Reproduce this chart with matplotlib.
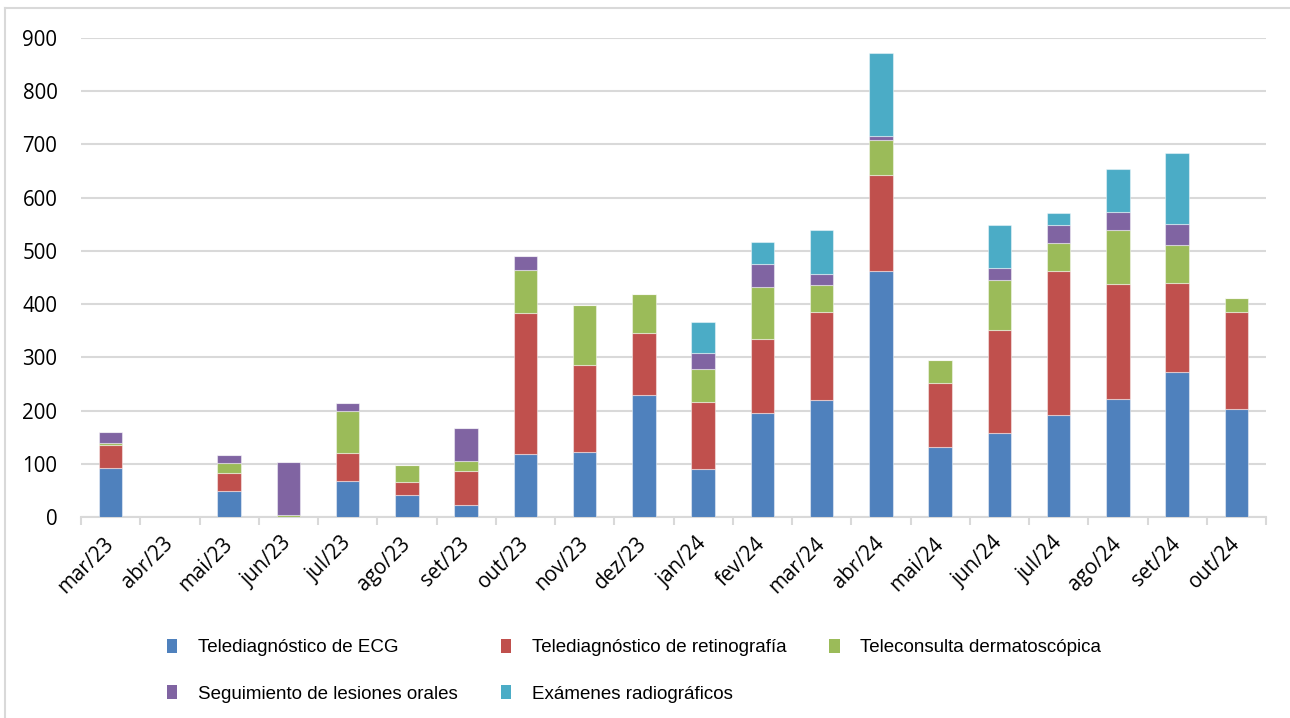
import matplotlib
matplotlib.use("Agg")
import matplotlib.pyplot as plt
import numpy as np
from matplotlib.lines import Line2D
from matplotlib.patches import Patch

months = ["mar/23", "abr/23", "mai/23", "jun/23", "jul/23", "ago/23", "set/23",
          "out/23", "nov/23", "dez/23", "jan/24", "fev/24", "mar/24", "abr/24",
          "mai/24", "jun/24", "jul/24", "ago/24", "set/24", "out/24"]

ecg = [93, 0, 48, 0, 68, 41, 22, 118, 123, 229, 91, 195, 219, 462, 131, 158, 192, 222, 273, 202]
retinografia = [43, 0, 34, 0, 52, 24, 65, 265, 162, 117, 126, 140, 166, 180, 121, 193, 271, 216, 167, 184]
dermatoscopica = [3, 0, 19, 3, 79, 32, 19, 82, 113, 73, 61, 97, 50, 66, 43, 94, 52, 101, 71, 26]
lesiones_orales = [20, 0, 15, 100, 16, 0, 62, 26, 0, 0, 30, 43, 21, 8, 0, 23, 34, 34, 40, 0]
radiograficos = [0, 0, 0, 0, 0, 0, 0, 0, 0, 0, 58, 42, 84, 155, 0, 81, 23, 80, 132, 0]

series = [
    ("Telediagnóstico de ECG", ecg, "#4F81BD"),
    ("Telediagnóstico de retinografía", retinografia, "#C0504D"),
    ("Teleconsulta dermatoscópica", dermatoscopica, "#9BBB59"),
    ("Seguimiento de lesiones orales", lesiones_orales, "#8064A2"),
    ("Exámenes radiográficos", radiograficos, "#4BACC6"),
]

W, H = 1290, 718
fig = plt.figure(figsize=(W / 100, H / 100), dpi=100)
ax = fig.add_axes([81 / W, (H - 517) / H, (1266 - 81) / W, (517 - 38) / H])

x = np.arange(len(months))
bottom = np.zeros(len(months))
for name, vals, color in series:
    vals = np.array(vals, dtype=float)
    ax.bar(x, vals, width=0.4, bottom=bottom, color=color,
           edgecolor=(1, 1, 1, 0.45), linewidth=0.8, label=name, zorder=3)
    bottom += vals

grid_color = "#d9d9d9"
ax.set_xlim(-0.5, len(months) - 0.5)
ax.set_ylim(0, 900)
ax.set_yticks(np.arange(0, 901, 100))
ax.yaxis.grid(True, color=grid_color, linewidth=1.5, zorder=0)
ax.set_axisbelow(True)

for side in ("left", "right", "top"):
    ax.spines[side].set_visible(False)
ax.spines["bottom"].set_color(grid_color)
ax.spines["bottom"].set_linewidth(1.5)

tick_font = dict(family=["Open Sans", "DejaVu Sans"], size=14.8)
ax.set_xticks(x)
ax.set_xticklabels(months, rotation=45, ha="right", va="center",
                   rotation_mode="anchor", fontdict=tick_font)
ax.set_xticks(np.arange(-0.5, len(months), 1.0), minor=True)
ax.tick_params(axis="x", which="major", length=0, pad=17)
ax.tick_params(axis="x", which="minor", length=6, width=1.5, color=grid_color)
ax.tick_params(axis="y", length=0, pad=17)
for lab in ax.get_yticklabels():
    lab.set_fontfamily(["Open Sans", "DejaVu Sans"])
    lab.set_fontsize(14.8)

# Outer frame of the chart area
fig.add_artist(Line2D([4.5 / W, 1], [1 - 8 / H, 1 - 8 / H], transform=fig.transFigure,
                      color=grid_color, linewidth=1.5))
fig.add_artist(Line2D([4.5 / W, 4.5 / W], [0, 1 - 8 / H], transform=fig.transFigure,
                      color=grid_color, linewidth=1.5))

# Legend entries laid out row by row (matplotlib fills legend columns first)
order = [0, 3, 1, 4, 2]
handles = [Patch(facecolor=series[i][2], edgecolor="none") for i in order]
labels = [series[i][0] for i in order]
fig.legend(handles, labels, loc="upper left", bbox_to_anchor=(150 / W, 1 - 622 / H),
           ncol=3, frameon=False, prop=dict(family=["Liberation Sans", "DejaVu Sans"], size=13.5),
           handlelength=0.55, handleheight=0.75, handletextpad=1.1,
           columnspacing=2.3, labelspacing=1.55)

fig.savefig("out.png", dpi=100)
